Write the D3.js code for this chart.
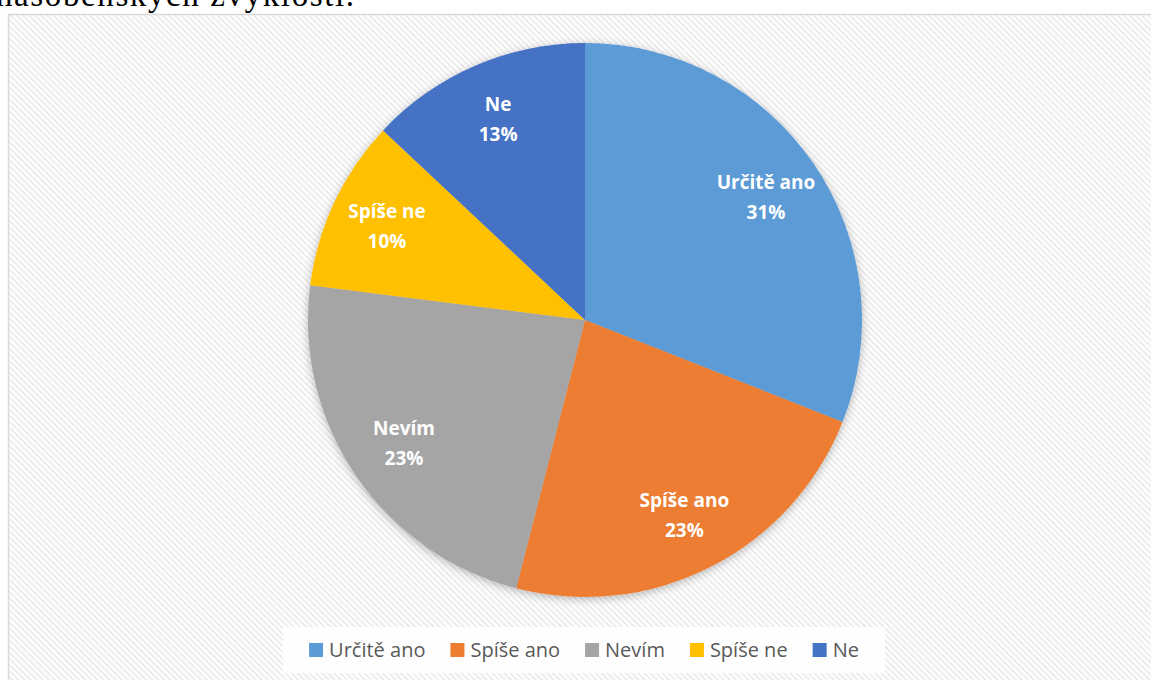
<!DOCTYPE html>
<html>
<head>
<meta charset="utf-8">
<script src="https://cdn.jsdelivr.net/npm/d3@7"></script>
<style>
  html, body { margin: 0; padding: 0; background: #fff; overflow: hidden; }
  svg { display: block; }
</style>
</head>
<body>
<svg id="chart" width="1151" height="680"></svg>
<script>
// Survey answers and their shares (percent)
const categories = ["Určitě ano", "Spíše ano", "Nevím", "Spíše ne", "Ne"];
const values = [31, 23, 23, 10, 13];
const colors = ["#5B9BD5", "#ED7D31", "#A5A5A5", "#FFC000", "#4472C4"];
const headingTail = "násobenských zvyklostí.";

const W = 1151, H = 680;
const svg = d3.select("#chart");
const defs = svg.append("defs");

// Diagonal hatch used as the chart area fill
const hatch = defs.append("pattern")
  .attr("id", "hatch")
  .attr("patternUnits", "userSpaceOnUse")
  .attr("width", 4.3).attr("height", 4.3)
  .attr("patternTransform", "rotate(-45)");
hatch.append("rect").attr("width", 4.3).attr("height", 4.3).attr("fill", "#ffffff");
hatch.append("rect").attr("width", 2).attr("height", 4.3).attr("fill", "#ececec");

// Soft outer shadow around the pie
const shadow = defs.append("filter").attr("id", "pieShadow")
  .attr("x", "-10%").attr("y", "-10%").attr("width", "120%").attr("height", "120%");
shadow.append("feDropShadow")
  .attr("dx", 0).attr("dy", 2).attr("stdDeviation", 4)
  .attr("flood-color", "#000").attr("flood-opacity", 0.28);

// Tail of the preceding paragraph, running off the top edge
svg.append("text")
  .attr("x", -4).attr("y", 6)
  .attr("font-family", "'Liberation Serif', 'Times New Roman', serif")
  .attr("font-size", 33)
  .attr("textLength", 358)
  .attr("fill", "#000")
  .text(headingTail);

// Chart frame
svg.append("rect")
  .attr("x", 8.5).attr("y", 14.5)
  .attr("width", W).attr("height", H)
  .attr("fill", "url(#hatch)")
  .attr("stroke", "#d9d9d9").attr("stroke-width", 1.5);

// Pie
const cx = 585, cy = 320, R = 277;
const pie = d3.pie().sort(null).value(d => d.value);
const data = categories.map((c, i) => ({ name: c, value: values[i], color: colors[i] }));
const arcs = pie(data);
const arc = d3.arc().innerRadius(0).outerRadius(R);
const labelArc = d3.arc().innerRadius(R * 0.79).outerRadius(R * 0.79);

const g = svg.append("g").attr("transform", `translate(${cx},${cy})`);
g.append("g").attr("filter", "url(#pieShadow)")
  .selectAll("path").data(arcs).join("path")
  .attr("d", arc)
  .attr("fill", d => d.data.color);

const labels = g.append("g")
  .attr("font-family", "'Open Sans', 'Noto Sans', sans-serif")
  .attr("font-weight", 700)
  .attr("font-size", 19)
  .attr("fill", "#fff")
  .attr("text-anchor", "middle");
arcs.forEach(d => {
  const [x, y] = labelArc.centroid(d);
  const t = labels.append("text").attr("transform", `translate(${x},${y})`);
  t.append("tspan").attr("x", 0).attr("y", -15).attr("dy", "0.35em").text(d.data.name);
  t.append("tspan").attr("x", 0).attr("y", 15).attr("dy", "0.35em").text(d.data.value + "%");
});

// Legend
const legendBox = { x: 283, y: 627, w: 602, h: 46 };
svg.append("rect")
  .attr("x", legendBox.x).attr("y", legendBox.y)
  .attr("width", legendBox.w).attr("height", legendBox.h)
  .attr("fill", "#ffffff").attr("opacity", 0.9);

const legend = svg.append("g")
  .attr("font-family", "'Open Sans', 'Noto Sans', sans-serif")
  .attr("font-size", 20)
  .attr("fill", "#595959");
const sw = 14, gapText = 6, gapItem = 25;
const items = data.map(d => {
  const it = legend.append("g");
  it.append("rect").attr("width", sw).attr("height", sw).attr("fill", d.color);
  const tx = it.append("text").attr("x", sw + gapText).attr("y", sw / 2).attr("dy", "0.35em").text(d.name);
  return { g: it, w: sw + gapText + tx.node().getComputedTextLength() };
});
const total = d3.sum(items, d => d.w) + gapItem * (items.length - 1);
let lx = legendBox.x + legendBox.w / 2 - total / 2;
const ly = legendBox.y + legendBox.h / 2 - sw / 2;
items.forEach(it => {
  it.g.attr("transform", `translate(${lx},${ly})`);
  lx += it.w + gapItem;
});
</script>
</body>
</html>
